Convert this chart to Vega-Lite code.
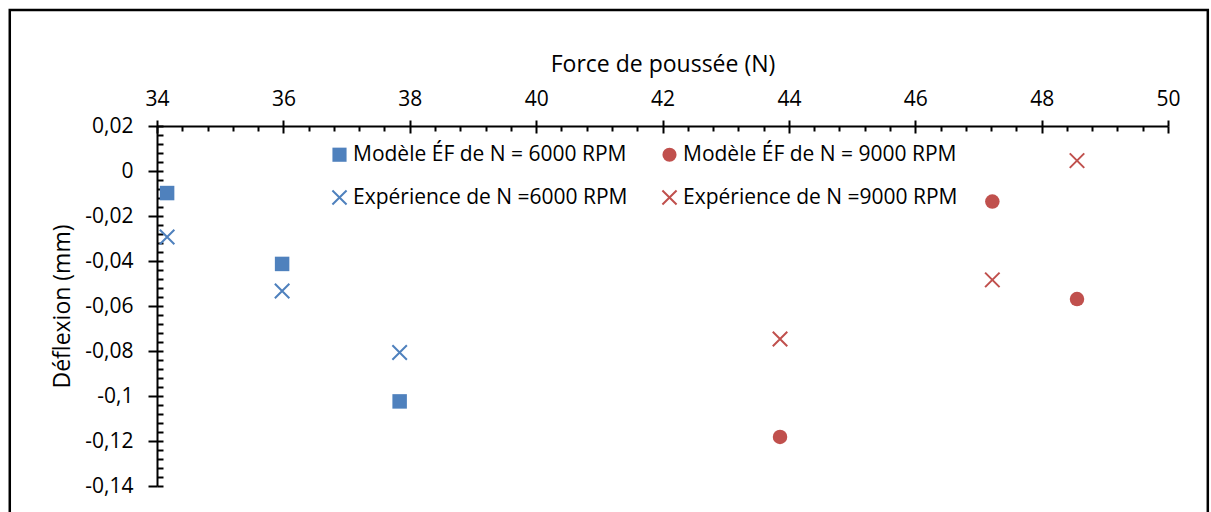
{
  "$schema": "https://vega.github.io/schema/vega-lite/v6.json",
  "autosize": "none",
  "width": 1011,
  "height": 360,
  "padding": {"left": 157, "top": 126, "right": 43, "bottom": 26},
  "background": "white",
  "config": {"view": {"stroke": null}},
  "layer": [
    {
      "data": {"values": [
        {"force": 34.16, "deflexion": -0.0098, "series": "Modèle ÉF de N = 6000 RPM"},
        {"force": 35.98, "deflexion": -0.0413, "series": "Modèle ÉF de N = 6000 RPM"},
        {"force": 37.84, "deflexion": -0.1024, "series": "Modèle ÉF de N = 6000 RPM"},
        {"force": 34.16, "deflexion": -0.0293, "series": "Expérience de N =6000 RPM"},
        {"force": 35.98, "deflexion": -0.0533, "series": "Expérience de N =6000 RPM"},
        {"force": 37.84, "deflexion": -0.0807, "series": "Expérience de N =6000 RPM"},
        {"force": 43.86, "deflexion": -0.1182, "series": "Modèle ÉF de N = 9000 RPM"},
        {"force": 47.22, "deflexion": -0.0136, "series": "Modèle ÉF de N = 9000 RPM"},
        {"force": 48.56, "deflexion": -0.0569, "series": "Modèle ÉF de N = 9000 RPM"},
        {"force": 43.86, "deflexion": -0.0747, "series": "Expérience de N =9000 RPM"},
        {"force": 47.22, "deflexion": -0.0484, "series": "Expérience de N =9000 RPM"},
        {"force": 48.56, "deflexion": 0.0046, "series": "Expérience de N =9000 RPM"}
      ]},
      "mark": {"type": "point", "filled": true, "size": 210, "strokeWidth": 2, "opacity": 1},
      "encoding": {
        "x": {
          "field": "force", "type": "quantitative",
          "scale": {"domain": [34, 50], "nice": false, "zero": false},
          "title": "Force de poussée (N)",
          "axis": {
            "orient": "top",
            "values": [34,34.4,34.8,35.2,35.6,36,36.4,36.8,37.2,37.6,38,38.4,38.8,39.2,39.6,40,40.4,40.8,41.2,41.6,42,42.4,42.8,43.2,43.6,44,44.4,44.8,45.2,45.6,46,46.4,46.8,47.2,47.6,48,48.4,48.8,49.2,49.6,50],
            "titleFont": "Open Sans", "titleFontSize": 23, "titleFontWeight": "normal", "titleColor": "black", "titlePadding": 12,
            "labelFont": "Open Sans", "labelFontSize": 21, "labelColor": "black", "labelPadding": 11,
            "labelOverlap": false, "labelFlush": false,
            "labelExpr": "abs(datum.value/2 - round(datum.value/2)) < 0.001 ? '' + datum.value : ''",
            "domainColor": "black", "domainWidth": 2,
            "tickSize": 6, "tickWidth": 2,
            "tickColor": {"condition": {"test": "abs(datum.value/2 - round(datum.value/2)) < 0.001", "value": "black"}, "value": "transparent"},
            "grid": true, "gridColor": "black", "gridWidth": 2,
            "gridDash": {"condition": {"test": "abs(datum.value/2 - round(datum.value/2)) < 0.001", "value": [0, 353, 7, 10000]}, "value": [0, 355, 5, 10000]}
          }
        },
        "y": {
          "field": "deflexion", "type": "quantitative",
          "scale": {"domain": [-0.14, 0.02], "nice": false, "zero": false},
          "title": "Déflexion (mm)",
          "axis": {
            "orient": "left",
            "values": [-0.14,-0.136,-0.132,-0.128,-0.124,-0.12,-0.116,-0.112,-0.108,-0.104,-0.1,-0.096,-0.092,-0.088,-0.084,-0.08,-0.076,-0.072,-0.068,-0.064,-0.06,-0.056,-0.052,-0.048,-0.044,-0.04,-0.036,-0.032,-0.028,-0.024,-0.02,-0.016,-0.012,-0.008,-0.004,0,0.004,0.008,0.012,0.016,0.02],
            "titleFont": "Open Sans", "titleFontSize": 23, "titleFontWeight": "normal", "titleColor": "black", "titlePadding": 10,
            "labelFont": "Open Sans", "labelFontSize": 21, "labelColor": "black", "labelPadding": 15,
            "labelOverlap": false, "labelFlush": false,
            "labelExpr": "abs(datum.value/0.02 - round(datum.value/0.02)) < 0.001 ? replace('' + datum.value, '.', ',') : ''",
            "domainColor": "black", "domainWidth": 2,
            "tickSize": 9, "tickWidth": 2,
            "tickColor": {"condition": {"test": "abs(datum.value/0.02 - round(datum.value/0.02)) < 0.001", "value": "black"}, "value": "transparent"},
            "grid": true, "gridColor": "black", "gridWidth": 2,
            "gridDash": [6, 3000]
          }
        },
        "fill": {
          "field": "series", "type": "nominal",
          "scale": {"domain": ["Modèle ÉF de N = 6000 RPM", "Expérience de N =6000 RPM", "Modèle ÉF de N = 9000 RPM", "Expérience de N =9000 RPM"], "range": ["#4F81BD", "#4F81BD", "#C0504D", "#C0504D"]},
          "legend": {
            "orient": "none", "legendX": 172, "legendY": 18, "columns": 2, "title": null,
            "labelFont": "Open Sans", "labelFontSize": 21, "labelColor": "black", "labelOffset": 3, "labelLimit": 600,
            "symbolSize": 200, "symbolStrokeWidth": 2, "rowPadding": 20, "columnPadding": 30, "padding": 0
          }
        },
        "stroke": {
          "field": "series", "type": "nominal",
          "scale": {"domain": ["Modèle ÉF de N = 6000 RPM", "Expérience de N =6000 RPM", "Modèle ÉF de N = 9000 RPM", "Expérience de N =9000 RPM"], "range": ["transparent", "#4F81BD", "transparent", "#C0504D"]}
        },
        "shape": {
          "field": "series", "type": "nominal",
          "scale": {"domain": ["Modèle ÉF de N = 6000 RPM", "Expérience de N =6000 RPM", "Modèle ÉF de N = 9000 RPM", "Expérience de N =9000 RPM"], "range": ["square", "M-1,-1L1,1M-1,1L1,-1", "circle", "M-1,-1L1,1M-1,1L1,-1"]}
        }
      }
    },
    {
      "data": {"values": [{}]},
      "mark": {"type": "rect", "fill": "transparent", "stroke": "black", "strokeWidth": 2.5, "clip": false},
      "encoding": {
        "x": {
          "datum": 31.67, "type": "quantitative",
          "scale": {"domain": [34, 50], "nice": false, "zero": false},
          "title": "Force de poussée (N)",
          "axis": {
            "orient": "top",
            "values": [34,34.4,34.8,35.2,35.6,36,36.4,36.8,37.2,37.6,38,38.4,38.8,39.2,39.6,40,40.4,40.8,41.2,41.6,42,42.4,42.8,43.2,43.6,44,44.4,44.8,45.2,45.6,46,46.4,46.8,47.2,47.6,48,48.4,48.8,49.2,49.6,50],
            "titleFont": "Open Sans", "titleFontSize": 23, "titleFontWeight": "normal", "titleColor": "black", "titlePadding": 12,
            "labelFont": "Open Sans", "labelFontSize": 21, "labelColor": "black", "labelPadding": 11,
            "labelOverlap": false, "labelFlush": false,
            "labelExpr": "abs(datum.value/2 - round(datum.value/2)) < 0.001 ? '' + datum.value : ''",
            "domainColor": "black", "domainWidth": 2,
            "tickSize": 6, "tickWidth": 2,
            "tickColor": {"condition": {"test": "abs(datum.value/2 - round(datum.value/2)) < 0.001", "value": "black"}, "value": "transparent"},
            "grid": true, "gridColor": "black", "gridWidth": 2,
            "gridDash": {"condition": {"test": "abs(datum.value/2 - round(datum.value/2)) < 0.001", "value": [0, 353, 7, 10000]}, "value": [0, 355, 5, 10000]}
          }
        },
        "x2": {"datum": 50.63},
        "y": {
          "datum": 0.0716, "type": "quantitative",
          "scale": {"domain": [-0.14, 0.02], "nice": false, "zero": false},
          "title": "Déflexion (mm)",
          "axis": {
            "orient": "left",
            "values": [-0.14,-0.136,-0.132,-0.128,-0.124,-0.12,-0.116,-0.112,-0.108,-0.104,-0.1,-0.096,-0.092,-0.088,-0.084,-0.08,-0.076,-0.072,-0.068,-0.064,-0.06,-0.056,-0.052,-0.048,-0.044,-0.04,-0.036,-0.032,-0.028,-0.024,-0.02,-0.016,-0.012,-0.008,-0.004,0,0.004,0.008,0.012,0.016,0.02],
            "titleFont": "Open Sans", "titleFontSize": 23, "titleFontWeight": "normal", "titleColor": "black", "titlePadding": 10,
            "labelFont": "Open Sans", "labelFontSize": 21, "labelColor": "black", "labelPadding": 15,
            "labelOverlap": false, "labelFlush": false,
            "labelExpr": "abs(datum.value/0.02 - round(datum.value/0.02)) < 0.001 ? replace('' + datum.value, '.', ',') : ''",
            "domainColor": "black", "domainWidth": 2,
            "tickSize": 9, "tickWidth": 2,
            "tickColor": {"condition": {"test": "abs(datum.value/0.02 - round(datum.value/0.02)) < 0.001", "value": "black"}, "value": "transparent"},
            "grid": true, "gridColor": "black", "gridWidth": 2,
            "gridDash": [6, 3000]
          }
        },
        "y2": {"datum": -0.17}
      }
    }
  ]
}
